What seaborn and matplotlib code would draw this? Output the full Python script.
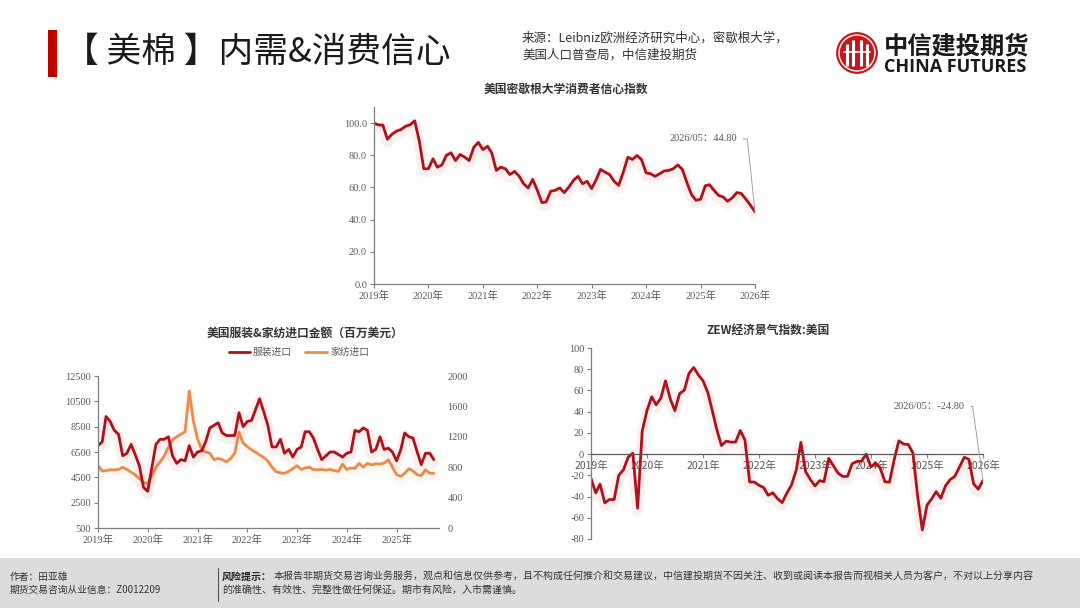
import pandas as pd
import matplotlib
matplotlib.use('Agg')
import matplotlib.pyplot as plt
import matplotlib.patheffects as pe
from matplotlib.patches import Rectangle, Circle
import seaborn as sns

# values (monthly)
sentiment = [100, 98.8, 98.8, 90, 93, 95, 96, 98, 99, 101.4, 89, 71.6,
             71.6, 77.8, 72.6, 74, 80, 81.5, 76.7, 80.5, 78.8, 76.7, 85, 88,
             83.5, 85.6, 81.5, 70.6, 72.6, 71.6, 68, 70, 67, 62.3, 59.7, 65,
             58.2, 50.6, 51, 57.6, 58.2, 59.7, 56.8, 60.3, 64.4, 66.9, 62.3, 63.8,
             59.3, 65, 71.2, 69.5, 68, 63.8, 61.3, 69.5, 78.8, 77.4, 79.8, 77.4,
             69.1, 68.5, 66.9, 68.5, 70.2, 70.6, 71.6, 74, 71.2, 63, 55.6, 52,
             52.7, 61, 61.7, 58.2, 55.1, 54.1, 51.4, 53.5, 56.8, 56.2, 52.7, 49,
             44.8]

apparel = [7000, 7300, 9300, 8900, 8200, 7900, 6200, 6400, 7100, 6300, 5400, 3700,
           3400, 5300, 7100, 7500, 7500, 7700, 6200, 5600, 5900, 5800, 7000, 6100,
           6500, 6600, 7300, 8400, 8600, 8800, 8000, 7800, 7800, 7800, 9600, 8500,
           8900, 9000, 9800, 10700, 9700, 8600, 6900, 6900, 7500, 6400, 6700, 6100,
           6700, 6900, 8100, 8100, 7600, 6700, 5900, 6200, 6500, 6500, 6300, 6100,
           6400, 6500, 8200, 8100, 8400, 8200, 6500, 6700, 7700, 6700, 6800, 6500,
           5800, 6700, 8000, 7700, 7600, 6500, 5500, 6400, 6400, 5900]

home_textile = [820, 750, 755, 765, 765, 770, 800, 770, 735, 700, 650, 600,
                585, 690, 800, 870, 950, 1060, 1160, 1200, 1235, 1265, 1800, 1410,
                1170, 1030, 1000, 985, 900, 915, 900, 870, 915, 985, 1260, 1120,
                1070, 1030, 1000, 960, 930, 880, 800, 740, 725, 720, 745, 780,
                820, 770, 790, 800, 770, 765, 770, 760, 770, 755, 745, 840,
                770, 790, 785, 850, 800, 850, 830, 845, 840, 855, 895, 800,
                700, 680, 720, 780, 750, 700, 690, 765, 720, 720]

zew = [-23, -36.5, -28.4, -46, -42.8, -42.8, -20, -14.7, -2.8, 0.9, -51, 21.6,
       41, 54, 46.5, 52.8, 69, 52, 41, 57, 60.3, 76, 81.6, 74.7,
       69, 58, 41.6, 22.8, 8.1, 12.2, 11.3, 11.3, 22.2, 13.4, -26.3, -26.3,
       -29.4, -31.6, -38.8, -36.5, -41.9, -45.7, -37, -29, -15, 11, -16.6, -23.8,
       -30, -25, -26, -4, -11, -18, -21, -21, -9, -7, -6.5, 0,
       -12, -8.5, -13, -26, -26.5, -5, 12.5, 9.5, 9, 1, -40, -71.4,
       -48, -42, -35.4, -41.6, -30, -24, -21, -12, -3, -5, -28, -33, -24.8]

years = list(range(2019, 2027))
sentiment_note = '2026/05：44.80'
zew_note = '2026/05：-24.80'

sent_df = pd.DataFrame({'date': pd.date_range('2019-01-01', periods=len(sentiment), freq='MS'),
                        'value': sentiment})
imp_df = pd.DataFrame({'date': pd.date_range('2019-01-01', periods=len(apparel), freq='MS'),
                       'apparel': apparel, 'home': home_textile})
zew_df = pd.DataFrame({'date': pd.date_range('2019-01-01', periods=len(zew), freq='MS'),
                       'value': zew})

sns.set_theme(style='white')
plt.rcParams['font.family'] = ['Noto Sans CJK SC', 'DejaVu Sans']
plt.rcParams['axes.unicode_minus'] = False

W, H = 1080, 608
fig = plt.figure(figsize=(W / 100, H / 100), dpi=100)
fig.patch.set_facecolor('white')

RED = '#AF1019'
ORANGE = '#EC8A4A'
GREY = '#595959'
TICKFONT = ['Liberation Serif', 'Noto Sans CJK SC']


def ax_px(l, t, r, b):
    return fig.add_axes([l / W, 1 - b / H, (r - l) / W, (b - t) / H])


def txt(x, y, s, **kw):
    return fig.text(x / W, 1 - y / H, s, **kw)


def glow(c):
    return [pe.SimpleLineShadow(offset=(0, -2), shadow_color=c, alpha=0.07, linewidth=8),
            pe.Normal()]


def style_axes(ax, xticks):
    ax.set_facecolor('none')
    for s in ['top', 'right']:
        ax.spines[s].set_visible(False)
    for s in ['left', 'bottom']:
        ax.spines[s].set_color('#7f7f7f')
        ax.spines[s].set_linewidth(0.9)
    ax.set_xticks([pd.Timestamp(f'{y}-01-01') for y in xticks])
    ax.set_xticklabels([f'{y}年' for y in xticks])
    ax.tick_params(axis='both', which='major', length=3, width=0.8, color='#7f7f7f',
                   labelsize=7.5, labelcolor=GREY, pad=2, bottom=True, left=True)
    for lab in ax.get_xticklabels() + ax.get_yticklabels():
        lab.set_fontfamily(TICKFONT)
    ax.set_xlabel('')
    ax.set_ylabel('')


# ---------------- header ----------------
fig.add_artist(Rectangle((48 / W, 1 - 77 / H), 9 / W, 47 / H, transform=fig.transFigure,
                         color='#C00000', lw=0))
txt(64, 52, '【 美棉 】内需&消费信心', fontsize=25, color='#1a1a1a', va='center', ha='left')
txt(522, 38, '来源：Leibniz欧洲经济研究中心，密歇根大学，', fontsize=9, color='#333333',
    va='center', ha='left')
txt(522, 55, '美国人口普查局，中信建投期货', fontsize=9, color='#333333', va='center', ha='left')

# logo
lax = ax_px(834, 30, 880, 76)
lax.set_xlim(-1.1, 1.1)
lax.set_ylim(-1.1, 1.1)
lax.set_aspect('equal')
lax.axis('off')
lax.add_patch(Circle((0, 0), 1.0, color='#C8161D', lw=0))
lax.add_patch(Circle((0, 0), 0.86, fill=False, ec='white', lw=1.0))
for xx, top in [(-0.5, 0.45), (-0.17, 0.62), (0.17, 0.62), (0.5, 0.45)]:
    lax.plot([xx, xx], [-0.62, top], color='white', lw=2.2, solid_capstyle='butt')
lax.plot([-0.62, 0.62], [0.05, 0.05], color='white', lw=1.2)
txt(884, 46, '中信建投期货', fontsize=17.5, fontweight='bold', color='#1a1a1a', va='center', ha='left')
txt(884, 67, 'CHINA FUTURES', fontsize=13, fontweight='bold', color='#1a1a1a', va='center',
    ha='left', family=['Open Sans', 'DejaVu Sans'])

# ---------------- top chart: Michigan sentiment ----------------
ax1 = ax_px(374, 107, 755, 284)
sns.lineplot(data=sent_df, x='date', y='value', ax=ax1, color=RED, lw=2.0, path_effects=glow('#d03030'))
ax1.set_xlim(pd.Timestamp('2019-01-01'), pd.Timestamp('2026-01-01'))
ax1.set_ylim(0, 110)
ax1.set_yticks([0, 20, 40, 60, 80, 100])
ax1.set_yticklabels([f'{v:.1f}' for v in [0, 20, 40, 60, 80, 100]])
style_axes(ax1, years)
ax1.annotate(sentiment_note, xy=(sent_df['date'].iloc[-1], sentiment[-1]),
             xytext=(-18, 73), textcoords='offset pixels', ha='right', va='center',
             fontsize=7.5, color=GREY, family=TICKFONT,
             arrowprops=dict(arrowstyle='-', color='#a0a0a0', lw=0.7, shrinkA=2, shrinkB=0,
                             relpos=(1, 0.5), connectionstyle='angle,angleA=0,angleB=96,rad=0'))
txt(566, 89, '美国密歇根大学消费者信心指数', fontsize=8.5, fontweight='bold', color='#333333',
    ha='center', va='center')

# ---------------- bottom left: imports ----------------
ax2 = ax_px(98, 376, 439, 528)
sns.lineplot(data=imp_df, x='date', y='apparel', ax=ax2, color=RED, lw=2.0, path_effects=glow('#d03030'))
ax2.set_xlim(pd.Timestamp('2019-01-01'), pd.Timestamp('2025-11-08'))
ax2.set_ylim(500, 12500)
ax2.set_yticks(range(500, 12501, 2000))
style_axes(ax2, years[:-1])
ax2b = ax2.twinx()
sns.lineplot(data=imp_df, x='date', y='home', ax=ax2b, color=ORANGE, lw=2.0,
             path_effects=glow('#f0a060'))
ax2b.set_ylim(0, 2000)
ax2b.set_yticks(range(0, 2001, 400))
for s in ['top', 'right', 'left', 'bottom']:
    ax2b.spines[s].set_visible(False)
ax2b.tick_params(axis='y', length=0, labelsize=7.5, labelcolor=GREY, pad=6)
for lab in ax2b.get_yticklabels():
    lab.set_fontfamily(TICKFONT)
ax2b.set_ylabel('')
ax2.set_zorder(ax2b.get_zorder() + 1)
ax2.patch.set_visible(False)
txt(305, 333, '美国服装&家纺进口金额（百万美元）', fontsize=8.5, fontweight='bold', color='#333333',
    ha='center', va='center')
fig.add_artist(plt.Line2D([229 / W, 250 / W], [1 - 352 / H] * 2, color=RED, lw=2.0))
txt(253, 352, '服装进口', fontsize=7, color=GREY, va='center', ha='left')
fig.add_artist(plt.Line2D([305 / W, 327 / W], [1 - 352 / H] * 2, color=ORANGE, lw=2.0))
txt(330, 352, '家纺进口', fontsize=7, color=GREY, va='center', ha='left')

# ---------------- bottom right: ZEW ----------------
ax3 = ax_px(591, 348, 983, 539)
sns.lineplot(data=zew_df, x='date', y='value', ax=ax3, color=RED, lw=2.0, path_effects=glow('#d03030'))
ax3.set_xlim(pd.Timestamp('2019-01-01'), pd.Timestamp('2026-01-01'))
ax3.set_ylim(-80, 100)
ax3.set_yticks(range(-80, 101, 20))
style_axes(ax3, years)
ax3.spines['bottom'].set_position(('data', 0))
ax3.spines['bottom'].set_color('#595959')
ax3.annotate(zew_note, xy=(zew_df['date'].iloc[-1], zew[-1]),
             xytext=(-18, 74), textcoords='offset pixels', ha='right', va='center',
             fontsize=7.5, color=GREY, family=TICKFONT,
             arrowprops=dict(arrowstyle='-', color='#a0a0a0', lw=0.7, shrinkA=2, shrinkB=0,
                             relpos=(1, 0.5), connectionstyle='angle,angleA=0,angleB=98,rad=0'))
txt(768, 330, 'ZEW经济景气指数:美国', fontsize=8.5, fontweight='bold', color='#333333',
    ha='center', va='center')

# ---------------- footer ----------------
fig.add_artist(Rectangle((0, 0), 1, 50 / H, transform=fig.transFigure, color='#DCDCDC', lw=0,
                         zorder=0))
fig.add_artist(plt.Line2D([218 / W, 218 / W], [1 - 568 / H, 1 - 601 / H], color='#555555', lw=0.8))
txt(10, 577, '作者：田亚雄', fontsize=7, color='#333333', va='center')
txt(10, 590, '期货交易咨询从业信息：Z0012209', fontsize=7, color='#333333', va='center')
txt(222, 577, '风险提示：', fontsize=7.2, color='#222222', va='center', fontweight='bold')
txt(274, 577, '本报告非期货交易咨询业务服务，观点和信息仅供参考，且不构成任何推介和交易建议，'
    '中信建投期货不因关注、收到或阅读本报告而视相关人员为客户，不对以上分享内容',
    fontsize=7.2, color='#333333', va='center')
txt(222, 590, '的准确性、有效性、完整性做任何保证。期市有风险，入市需谨慎。', fontsize=7.2,
    color='#333333', va='center')

fig.savefig('out.png', dpi=100)
